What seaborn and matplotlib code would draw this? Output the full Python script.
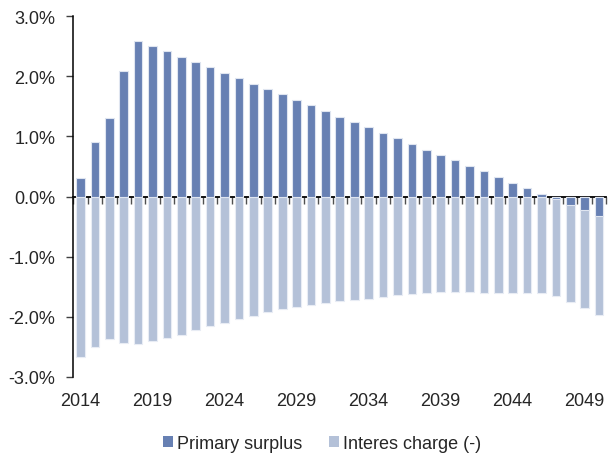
import numpy as np
import pandas as pd
import matplotlib
matplotlib.use('Agg')
import matplotlib.pyplot as plt
from matplotlib.patches import Patch
from matplotlib.ticker import FuncFormatter
import seaborn as sns

# Data (% of GDP)
years = [str(y) for y in range(2014, 2051)]
primary_surplus = [0.30, 0.90, 1.30, 2.09, 2.59, 2.50, 2.42, 2.33, 2.24, 2.15,
                   2.06, 1.97, 1.88, 1.79, 1.70, 1.61, 1.52, 1.43, 1.33, 1.24,
                   1.15, 1.06, 0.97, 0.87, 0.78, 0.69, 0.60, 0.51, 0.42, 0.32,
                   0.23, 0.14, 0.04, -0.04, -0.14, -0.23, -0.33]
interest_charge = [-2.68, -2.51, -2.37, -2.44, -2.45, -2.41, -2.36, -2.30, -2.23, -2.16,
                   -2.10, -2.04, -1.99, -1.93, -1.88, -1.84, -1.81, -1.77, -1.745, -1.72,
                   -1.70, -1.67, -1.645, -1.62, -1.61, -1.59, -1.595, -1.595, -1.60, -1.60,
                   -1.61, -1.61, -1.61, -1.66, -1.76, -1.86, -1.97]
tick_years = years[::5]
series_labels = ['Primary surplus', 'Interes charge (-)']

dark_blue = '#6780b3'
light_blue = '#b4c1d8'

df = pd.DataFrame({'year': years,
                   'primary': primary_surplus,
                   'interest': interest_charge})

sns.set_style('white')
plt.rcParams['font.family'] = ['Liberation Sans', 'DejaVu Sans']
plt.rcParams['font.size'] = 13

fig = plt.figure(figsize=(6.08, 4.56), dpi=100)
ax = fig.add_axes([0.1206, 0.1717, 0.8766, 0.7903])

# interest charge first, primary surplus drawn over it
sns.barplot(data=df, x='year', y='interest', order=years, color=light_blue,
            saturation=1, width=0.6, edgecolor='#e8ecf4', linewidth=0.8, ax=ax)
sns.barplot(data=df, x='year', y='primary', order=years, color=dark_blue,
            saturation=1, width=0.6, edgecolor='#dfe5f0', linewidth=0.8, ax=ax)

ax.set_xlim(-0.5, len(years) - 0.5)
ax.set_ylim(-3, 3)
ax.set_yticks(np.arange(-3, 3.1, 1))
ax.yaxis.set_major_formatter(FuncFormatter(lambda v, p: f'{v:.1f}%'))
ax.tick_params(axis='y', length=5, width=1, color='#404040', pad=8,
               labelsize=13, left=True)

ax.set_xticks([years.index(y) for y in tick_years])
ax.set_xticklabels(tick_years)
ax.tick_params(axis='x', length=0, pad=11, labelsize=13)
ax.set_xlabel('')
ax.set_ylabel('')

for side in ['top', 'right', 'bottom']:
    ax.spines[side].set_visible(False)
ax.spines['left'].set_color('black')
ax.spines['left'].set_linewidth(1.1)

# zero line with category boundary ticks
zero_axis = ax.secondary_xaxis(0.5)
zero_axis.set_alignment('bottom')
zero_axis.set_xticks(np.arange(-0.5, len(years), 1.0))
zero_axis.tick_params(axis='x', direction='out', length=5, width=1,
                      color='#505050', labelbottom=False, labeltop=False)
zero_axis.spines['bottom'].set_color('black')
zero_axis.spines['bottom'].set_linewidth(1.3)

handles = [Patch(facecolor=dark_blue, edgecolor='none'),
           Patch(facecolor=light_blue, edgecolor='none')]
fig.legend(handles, series_labels, loc='center', bbox_to_anchor=(0.53, 0.026),
           ncol=2, frameon=False, fontsize=13, handlelength=0.55,
           handleheight=0.55, handletextpad=0.2, columnspacing=1.5)

fig.savefig('out.png', dpi=100)
